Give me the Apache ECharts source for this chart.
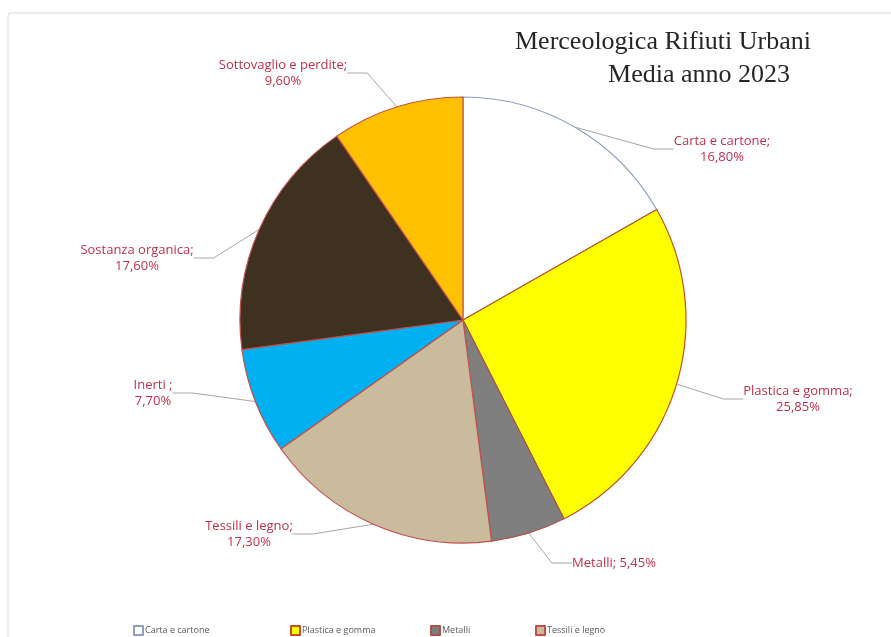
<!DOCTYPE html>
<html>
<head>
<meta charset="utf-8">
<script src="https://cdn.jsdelivr.net/npm/echarts@6/dist/echarts.min.js"></script>
<style>
  html, body { margin: 0; padding: 0; background: #ffffff; }
  #chart { width: 891px; height: 637px; }
</style>
</head>
<body>
<div id="chart"></div>
<script>
// Composizione merceologica dei rifiuti urbani, media 2023 (valori in %)
const categories = [
  'Carta e cartone',
  'Plastica e gomma',
  'Metalli',
  'Tessili e legno',
  'Inerti',
  'Sostanza organica',
  'Sottovaglio e perdite'
];
const shares = [16.80, 25.85, 5.45, 17.30, 7.70, 17.60, 9.60];
const labelNames = [
  'Carta e cartone;',
  'Plastica e gomma;',
  'Metalli;',
  'Tessili e legno;',
  'Inerti ;',
  'Sostanza organica;',
  'Sottovaglio e perdite;'
];
const legendItems = ['Carta e cartone', 'Plastica e gomma', 'Metalli', 'Tessili e legno'];
const titleLines = ['Merceologica Rifiuti Urbani', 'Media anno 2023'];

// Slice styling
const fills   = ['#ffffff', '#ffff00', '#7f7f7f', '#c9bb9c', '#00b0f0', '#3f3120', '#ffc000'];
const borders = ['#8ea0bd', '#c0502a', '#b0504a', '#c0504d', '#c0504d', '#c0504d', '#c0504d'];
const singleLine = [false, false, true, false, false, false, false];

// Label anchor points (px) for each slice
const labelPos = [[722, 149], [798, 399], [614, 563], [249, 534], [153, 393], [137, 258], [283, 73]];
// Legend entry x positions (px)
const legendX = [128, 285, 425, 530];
// Title line centres (px)
const titlePos = [[658, 24], [694, 57]];

const fmt = v => v.toFixed(2).replace('.', ',') + '%';

const chart = echarts.init(document.getElementById('chart'), null, { renderer: 'canvas' });

const legends = legendItems.map((name, i) => ({
  data: [name],
  left: legendX[i],
  top: 620,
  itemWidth: 9,
  itemHeight: 9,
  icon: 'rect',
  textStyle: { fontFamily: 'Open Sans', fontSize: 9, color: '#595959', padding: [0, 0, 0, -3] },
  selectedMode: false
}));

const titles = titleLines.map((t, i) => ({
  text: t,
  left: titlePos[i][0],
  top: titlePos[i][1],
  textAlign: 'center',
  textStyle: {
    fontFamily: 'Liberation Serif',
    fontSize: 26,
    fontWeight: 'normal',
    color: '#262626'
  }
}));

chart.setOption({
  backgroundColor: '#ffffff',
  animation: false,
  title: titles,
  graphic: [{
    type: 'rect',
    shape: { x: 8, y: 13, width: 900, height: 640, r: 3 },
    style: { fill: 'none', stroke: '#d9d9d9', lineWidth: 1 },
    z: -1
  }],
  legend: legends,
  series: [{
    type: 'pie',
    center: [463, 320],
    radius: [0, 223],
    startAngle: 90,
    clockwise: true,
    data: categories.map((name, i) => ({
      name,
      value: shares[i],
      itemStyle: { color: fills[i], borderColor: borders[i], borderWidth: 1.2 }
    })),
    label: {
      show: true,
      formatter: p => labelNames[p.dataIndex] + (singleLine[p.dataIndex] ? ' ' : '\n') + fmt(p.value),
      fontFamily: 'Open Sans',
      fontSize: 13,
      fontWeight: 'normal',
      color: '#c0304a',
      align: 'center',
      lineHeight: 16
    },
    labelLine: {
      show: true,
      length: 20,
      length2: 20,
      lineStyle: { color: '#a6a6a6', width: 1 }
    },
    labelLayout: p => ({
      x: labelPos[p.dataIndex][0],
      y: labelPos[p.dataIndex][1],
      align: 'center',
      verticalAlign: 'middle'
    }),
    emphasis: { disabled: true }
  }]
});
</script>
</body>
</html>
